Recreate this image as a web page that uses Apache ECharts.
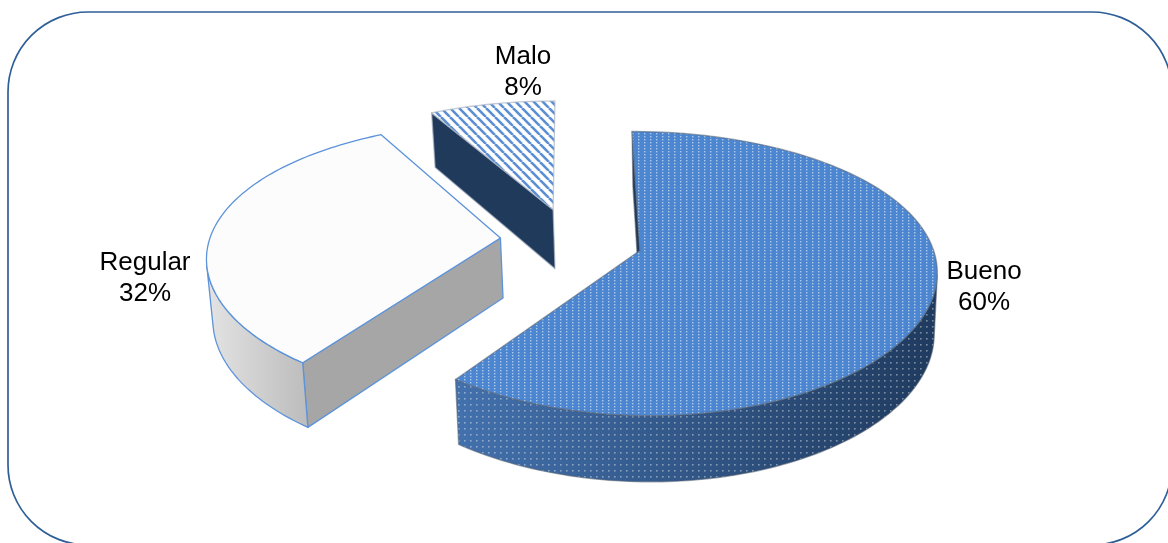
<!DOCTYPE html>
<html>
<head>
<meta charset="utf-8">
<style>html,body{margin:0;padding:0;background:#fff}#c{width:1168px;height:543px}</style>
<script src="https://cdn.jsdelivr.net/npm/echarts@6/dist/echarts.min.js"></script>
</head>
<body>
<div id="c"></div>
<script>
const categories = ['Bueno', 'Regular', 'Malo'];
const values = [60, 32, 8];

// Camera used to project the exploded 3D pie
const cam = { cx: 570, cy: 240, A: 291, B: 135, D: 62, p: 0.16, px: 0.125, q: 0.03, shear: 0.013, vx: 700 };
const explodeBy = { Bueno: 0.25, Regular: 0.24, Malo: 0.24 };
const labelLayout = { Bueno: [984, 287], Regular: [145, 278], Malo: [523, 72.5] };

function makeTile(w, h, draw) {
  const c = document.createElement('canvas');
  c.width = w; c.height = h;
  draw(c.getContext('2d'));
  return { image: c, repeat: 'repeat' };
}
const dotsTop = makeTile(6, 3, g => { g.fillStyle = 'rgba(255,255,255,0.55)'; g.fillRect(2, 1, 1.4, 1.4); });
const dotsSide = makeTile(6, 6, g => { g.fillStyle = 'rgba(255,255,255,0.42)'; g.fillRect(2, 2, 1.6, 1.6); });
const stripes = makeTile(9, 9, g => {
  g.fillStyle = '#fff'; g.fillRect(0, 0, 9, 9);
  g.strokeStyle = '#5b8fd3'; g.lineWidth = 2.6;
  [-9, 0, 9].forEach(o => { g.beginPath(); g.moveTo(o, 0); g.lineTo(o + 9, 9); g.stroke(); });
});

const linear = (a, b) => ({ type: 'linear', x: 0, y: 0, x2: 1, y2: 0, colorStops: [{ offset: 0, color: a }, { offset: 1, color: b }] });
const looks = {
  Bueno: {
    top: [{ fill: '#4c86d0' }, { fill: dotsTop }],
    rim: [{ fill: linear('#4371ad', '#1f3a5e') }, { fill: dotsSide }],
    face: [{ fill: '#203a5c' }],
    stroke: 'rgba(90,100,115,0.55)'
  },
  Regular: {
    top: [{ fill: '#fcfcfc' }],
    rim: [{ fill: linear('#e4e4e4', '#bcbcbc') }],
    face: [{ fill: '#a6a6a6' }],
    stroke: '#5c93da'
  },
  Malo: {
    top: [{ fill: stripes }],
    rim: [{ fill: '#203a5c' }],
    face: [{ fill: '#203a5c' }],
    stroke: 'rgba(170,180,195,0.7)'
  }
};

function project(X, Y, z) {
  const base = cam.cx + cam.A * X / (1 + cam.px * Y);
  const w = 1 + cam.p * Y + cam.q * z;
  return [base + z * cam.shear * (cam.vx - base), cam.cy + (-cam.B * Y + cam.D * z) / w];
}
const turn = (o, a, b) => (a[0] - o[0]) * (b[1] - o[1]) - (a[1] - o[1]) * (b[0] - o[0]);

const total = values.reduce((a, b) => a + b, 0);
const starts = values.map((v, i) => values.slice(0, i).reduce((a, b) => a + b, 0));

function renderItem(params, api) {
  const i = params.dataIndex;
  const name = categories[i];
  const a0 = starts[i] / total * Math.PI * 2;
  const a1 = a0 + api.value(0) / total * Math.PI * 2;
  const mid = (a0 + a1) / 2;
  const e = explodeBy[name];
  const ox = Math.sin(mid) * e, oy = Math.cos(mid) * e;
  const at = (th, r, z) => project(ox + r * Math.sin(th), oy + r * Math.cos(th), z);
  const n = Math.max(8, Math.round((a1 - a0) * 50));
  const topArc = [], lowArc = [];
  for (let k = 0; k <= n; k++) {
    const th = a0 + (a1 - a0) * k / n;
    topArc.push(at(th, 1, 0));
    lowArc.push(at(th, 1, 1));
  }
  const look = looks[name];
  const poly = (pts, st, withStroke) => ({
    type: 'polygon', shape: { points: pts },
    style: Object.assign({ stroke: withStroke ? look.stroke : 'none', lineWidth: withStroke ? 1.3 : 0, lineJoin: 'round' }, st)
  });
  const layers = (pts, list) => list.map((st, k) => poly(pts, st, k === list.length - 1));

  let children = [];
  // Only the side walls that clearly face the viewer are drawn.
  const face = th => [at(0, 0, 0), at(th, 1, 0), at(th, 1, 1), at(0, 0, 1)];
  const f0 = face(a0), f1 = face(a1);
  if (turn(f0[0], f0[1], f0[2]) < 0) children = children.concat(layers(f0, look.face));
  if (turn(f1[0], f1[1], f1[2]) > 1000) children = children.concat(layers(f1, look.face));
  const frontTop = [], frontLow = [];
  for (let k = 0; k < n; k++) {
    if (turn(topArc[k], topArc[k + 1], lowArc[k]) < 0) {
      if (!frontTop.length) { frontTop.push(topArc[k]); frontLow.push(lowArc[k]); }
      frontTop.push(topArc[k + 1]); frontLow.push(lowArc[k + 1]);
    }
  }
  if (frontTop.length > 1) {
    children = children.concat(layers(frontTop.concat(frontLow.slice().reverse()), look.rim));
  }
  children = children.concat(layers([at(0, 0, 0)].concat(topArc), look.top));

  const lp = labelLayout[name];
  children.push({
    type: 'text', z2: 10,
    style: {
      x: lp[0], y: lp[1], text: name + '\n' + api.value(0) + '%',
      fontFamily: '"Liberation Sans", Arial, sans-serif', fontSize: 26, lineHeight: 31,
      fill: '#000', align: 'center', verticalAlign: 'middle'
    }
  });
  return { type: 'group', children };
}

const chart = echarts.init(document.getElementById('c'), null, { renderer: 'canvas' });
chart.setOption({
  animation: false,
  backgroundColor: '#fff',
  graphic: [{
    type: 'rect', silent: true,
    shape: { x: 8, y: 12, width: 1164, height: 533, r: 80 },
    style: { fill: 'none', stroke: '#2f5f97', lineWidth: 1.7 }
  }],
  series: [{
    type: 'custom',
    coordinateSystem: 'none',
    silent: true,
    renderItem,
    data: values.map((v, i) => ({ name: categories[i], value: [v] }))
  }]
});
</script>
</body>
</html>
